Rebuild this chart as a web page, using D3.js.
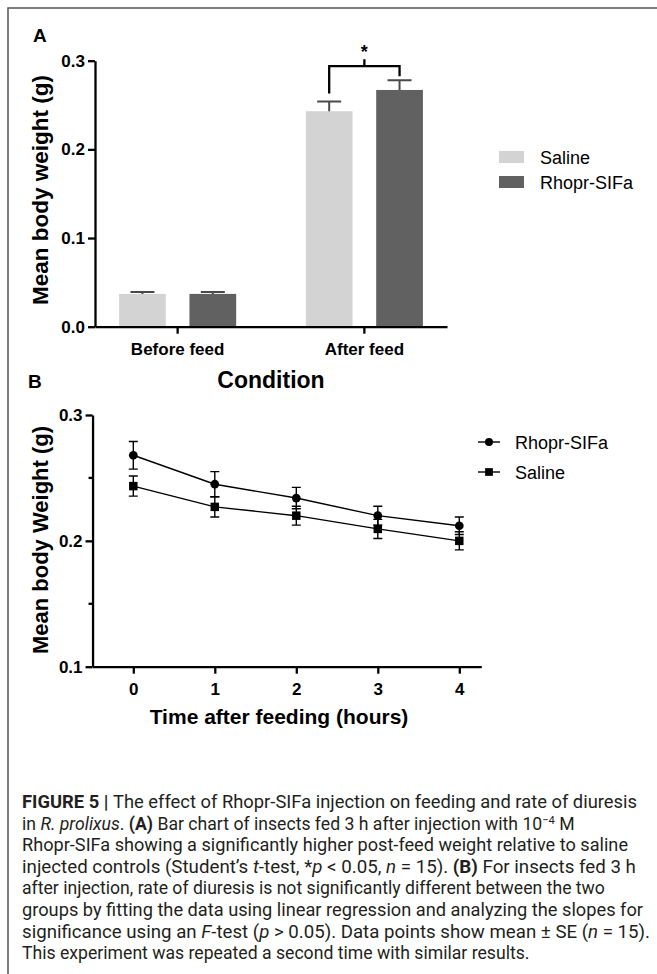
<!DOCTYPE html>
<html>
<head>
<meta charset="utf-8">
<script src="https://cdn.jsdelivr.net/npm/d3@7"></script>
<style>
body { margin: 0; background: #fff; }
svg { display: block; }
text { font-family: "Liberation Sans", Arial, sans-serif; }
</style>
</head>
<body>
<div id="fig"></div>
<script>
// panel A data
var conditions = ["Before feed", "After feed"]
var groups = ["Saline", "Rhopr-SIFa"]
var salineBar = [0.037, 0.243]
var salineBarSE = [0.002, 0.011]
var sifaBar = [0.037, 0.267]
var sifaBarSE = [0.002, 0.011]
var yTicksA = [0, 0.1, 0.2, 0.3]

// panel B data
var hours = [0, 1, 2, 3, 4]
var sifaWeight = [0.268, 0.245, 0.234, 0.220, 0.212]
var sifaSE = [0.011, 0.010, 0.0085, 0.0075, 0.007]
var salineWeight = [0.2435, 0.227, 0.220, 0.2095, 0.200]
var salineSE = [0.008, 0.008, 0.0075, 0.0076, 0.0072]
var yTicksB = [0.1, 0.2, 0.3]
var yMinorB = [0.15, 0.25]

var width = 657, height = 974

var svg = d3.select("#fig").append("svg")
    .attr("width", width)
    .attr("height", height)

// frame round the figure (only top and left show)
svg.append("path")
    .attr("d", "M8," + height + "V8H" + width)
    .attr("fill", "none")
    .attr("stroke", "#555")
    .attr("stroke-width", 1.5)

function styleAxis(g) {
    g.select(".domain").attr("stroke", "#000").attr("stroke-width", 2.3)
    g.selectAll(".tick line").attr("stroke", "#000").attr("stroke-width", 2.3)
    g.selectAll(".tick text")
        .attr("fill", "#000")
        .style("font-size", "17px")
        .style("font-weight", "bold")
        .style("font-family", "'Liberation Sans', Arial, sans-serif")
}

// ---------- panel A ----------
var xA = d3.scaleBand().domain(conditions).range([95, 447]).paddingInner(0.373).paddingOuter(0.129)
var xInner = d3.scaleBand().domain(groups).range([0, xA.bandwidth()]).paddingInner(0.336)
var yA = d3.scaleLinear().domain([0, 0.3]).range([326.7, 60.7])
var colorA = d3.scaleOrdinal().domain(groups).range(["#d3d3d3", "#616161"])

var barData = []
conditions.forEach(function (c, i) {
    barData.push({cond: c, grp: "Saline", v: salineBar[i], se: salineBarSE[i]})
    barData.push({cond: c, grp: "Rhopr-SIFa", v: sifaBar[i], se: sifaBarSE[i]})
})
function barCenter(d) { return xA(d.cond) + xInner(d.grp) + xInner.bandwidth() / 2 }

var gA = svg.append("g")
gA.selectAll("rect.bar")
    .data(barData)
    .enter()
    .append("rect")
    .attr("class", "bar")
    .attr("x", function (d) { return xA(d.cond) + xInner(d.grp) })
    .attr("y", function (d) { return yA(d.v) })
    .attr("width", xInner.bandwidth())
    .attr("height", function (d) { return yA(0) - yA(d.v) })
    .attr("fill", function (d) { return colorA(d.grp) })

// upward error bars
gA.selectAll("path.err")
    .data(barData)
    .enter()
    .append("path")
    .attr("class", "err")
    .attr("d", function (d) {
        var cx = barCenter(d), y0 = yA(d.v), y1 = yA(d.v + d.se)
        return "M" + cx + "," + y0 + "V" + y1 + "M" + (cx - 12) + "," + y1 + "H" + (cx + 12)
    })
    .attr("fill", "none")
    .attr("stroke", "#4a4a4a")
    .attr("stroke-width", 2)

var axA = gA.append("g").attr("transform", "translate(0," + yA(0) + ")")
    .call(d3.axisBottom(xA).tickSize(7).tickSizeOuter(0).tickPadding(6))
styleAxis(axA)
axA.selectAll(".tick text").attr("dy", "0.9em")
var ayA = gA.append("g").attr("transform", "translate(95,0)")
    .call(d3.axisLeft(yA).tickValues(yTicksA).tickFormat(d3.format(".1f")).tickSize(7).tickSizeOuter(0).tickPadding(3))
styleAxis(ayA)

// significance bracket between the two "After feed" bars
var left = barData[2], right = barData[3]
var lx = barCenter(left), rx = barCenter(right)
var by = yA(right.v + right.se) - 14
var mid = (lx + rx) / 2
gA.append("path")
    .attr("d", "M" + lx + "," + (yA(left.v + left.se) - 8) + "V" + by + "H" + rx + "V" + (yA(right.v + right.se) - 4)
        + "M" + mid + "," + by + "V" + (by - 7))
    .attr("fill", "none")
    .attr("stroke", "#000")
    .attr("stroke-width", 2.3)
gA.append("text")
    .attr("x", mid)
    .attr("y", by - 8)
    .attr("text-anchor", "middle")
    .style("font-size", "18px")
    .style("font-weight", "bold")
    .text("*")

// legend A
var legA = gA.selectAll("g.legA")
    .data(groups)
    .enter()
    .append("g")
    .attr("class", "legA")
    .attr("transform", function (d, i) { return "translate(499," + (157 + i * 25) + ")" })
legA.append("rect")
    .attr("x", 0).attr("y", -6).attr("width", 25).attr("height", 12)
    .attr("fill", function (d) { return colorA(d) })
legA.append("text")
    .attr("x", 41).attr("y", 6.5)
    .style("font-size", "18px")
    .text(function (d) { return d })

gA.append("text").attr("x", 33).attr("y", 42)
    .style("font-size", "19px").style("font-weight", "bold").text("A")
gA.append("text")
    .attr("transform", "translate(48,190) rotate(-90)")
    .attr("text-anchor", "middle")
    .style("font-size", "22.5px").style("font-weight", "bold")
    .text("Mean body weight (g)")
gA.append("text").attr("x", 271).attr("y", 388)
    .attr("text-anchor", "middle")
    .style("font-size", "23px").style("font-weight", "bold")
    .text("Condition")

// ---------- panel B ----------
var xB = d3.scaleLinear().domain([-0.5, 4.27]).range([92.55, 481.3])
var yB = d3.scaleLinear().domain([0.1, 0.3]).range([666.7, 415])

var seriesB = [
    {name: "Rhopr-SIFa", shape: "circle", vals: sifaWeight, se: sifaSE},
    {name: "Saline", shape: "square", vals: salineWeight, se: salineSE}
]

var gB = svg.append("g")
var line = d3.line()
    .x(function (d) { return xB(d.t) })
    .y(function (d) { return yB(d.v) })

seriesB.forEach(function (s) {
    var pts = hours.map(function (h, i) { return {t: h, v: s.vals[i], se: s.se[i]} })
    gB.append("path")
        .datum(pts)
        .attr("d", line)
        .attr("fill", "none")
        .attr("stroke", "#000")
        .attr("stroke-width", 1.4)
    gB.selectAll(null)
        .data(pts)
        .enter()
        .append("path")
        .attr("d", function (d) {
            var cx = xB(d.t), y0 = yB(d.v - d.se), y1 = yB(d.v + d.se)
            return "M" + cx + "," + y0 + "V" + y1 + "M" + (cx - 4.5) + "," + y0 + "H" + (cx + 4.5)
                + "M" + (cx - 4.5) + "," + y1 + "H" + (cx + 4.5)
        })
        .attr("fill", "none")
        .attr("stroke", "#000")
        .attr("stroke-width", 1.4)
    var sym = d3.symbol().type(s.shape == "circle" ? d3.symbolCircle : d3.symbolSquare)
        .size(s.shape == "circle" ? 60 : 72)
    gB.selectAll(null)
        .data(pts)
        .enter()
        .append("path")
        .attr("transform", function (d) { return "translate(" + xB(d.t) + "," + yB(d.v) + ")" })
        .attr("d", sym)
        .attr("fill", "#000")
})

var axB = gB.append("g").attr("transform", "translate(0," + yB(0.1) + ")")
    .call(d3.axisBottom(xB).tickValues(hours).tickFormat(d3.format("d")).tickSize(7).tickSizeOuter(0).tickPadding(6))
styleAxis(axB)
axB.selectAll(".tick text").attr("dy", "0.9em")
var ayB = gB.append("g").attr("transform", "translate(" + xB(-0.5) + ",0)")
    .call(d3.axisLeft(yB).tickValues(yTicksB).tickFormat(d3.format(".1f")).tickSize(7).tickSizeOuter(0).tickPadding(3))
styleAxis(ayB)
gB.selectAll("line.minor")
    .data(yMinorB)
    .enter()
    .append("line")
    .attr("class", "minor")
    .attr("x1", xB(-0.5) - 4).attr("x2", xB(-0.5))
    .attr("y1", function (d) { return yB(d) }).attr("y2", function (d) { return yB(d) })
    .attr("stroke", "#000").attr("stroke-width", 2.3)

// legend B
var legB = gB.selectAll("g.legB")
    .data(seriesB)
    .enter()
    .append("g")
    .attr("class", "legB")
    .attr("transform", function (d, i) { return "translate(478," + (442 + i * 30) + ")" })
legB.append("line")
    .attr("x1", 0).attr("x2", 22)
    .attr("stroke", "#000").attr("stroke-width", 1.4)
legB.append("path")
    .attr("transform", "translate(11,0)")
    .attr("d", function (d) {
        return d3.symbol().type(d.shape == "circle" ? d3.symbolCircle : d3.symbolSquare).size(d.shape == "circle" ? 50 : 60)()
    })
legB.append("text")
    .attr("x", 37).attr("y", 6.5)
    .style("font-size", "18px")
    .text(function (d) { return d.name })

gB.append("text").attr("x", 28).attr("y", 388)
    .style("font-size", "19px").style("font-weight", "bold").text("B")
gB.append("text")
    .attr("transform", "translate(48,540) rotate(-90)")
    .attr("text-anchor", "middle")
    .style("font-size", "22px").style("font-weight", "bold")
    .text("Mean body Weight (g)")
gB.append("text").attr("x", 279).attr("y", 724)
    .attr("text-anchor", "middle")
    .style("font-size", "21px").style("font-weight", "bold")
    .text("Time after feeding (hours)")

// ---------- caption ----------
var captionLines = [
    [["FIGURE 5 | ", "b"], ["The effect of Rhopr-SIFa injection on feeding and rate of diuresis", ""]],
    [["in ", ""], ["R. prolixus", "i"], [". ", ""], ["(A)", "b"], [" Bar chart of insects fed 3 h after injection with 10", ""], ["\u22124", "sup"], [" M", ""]],
    [["Rhopr-SIFa showing a significantly higher post-feed weight relative to saline", ""]],
    [["injected controls (Student\u2019s ", ""], ["t", "i"], ["-test, *", ""], ["p", "i"], [" < 0.05, ", ""], ["n", "i"], [" = 15). ", ""], ["(B)", "b"], [" For insects fed 3 h", ""]],
    [["after injection, rate of diuresis is not significantly different between the two", ""]],
    [["groups by fitting the data using linear regression and analyzing the slopes for", ""]],
    [["significance using an ", ""], ["F", "i"], ["-test (", ""], ["p", "i"], [" > 0.05). Data points show mean \u00b1 SE (", ""], ["n", "i"], [" = 15).", ""]],
    [["This experiment was repeated a second time with similar results.", ""]]
]
var captionEnds = [637, 513, 628, 641, 598, 643, 650, 468]

var cap = svg.append("g")
var capTexts = []
captionLines.forEach(function (segs, li) {
    var t = cap.append("text")
        .attr("x", 22)
        .attr("y", 808 + li * 21.6)
        .attr("fill", "#231f20")
        .style("font-family", "Roboto, 'Liberation Sans', sans-serif")
        .style("font-size", "16.5px")
    var shifted = false
    segs.forEach(function (s) {
        var ts = t.append("tspan").text(s[0])
        if (s[1] == "b") ts.style("font-weight", "bold")
        if (s[1] == "i") ts.style("font-style", "italic")
        if (s[1] == "sup") { ts.attr("dy", -5.5).style("font-size", "10.5px"); shifted = true }
        else if (shifted) { ts.attr("dy", 5.5); shifted = false }
    })
    capTexts.push(t)
})
// one common scale so glyphs stay the same size, then only a light stretch per line
var ratios = capTexts.map(function (t, i) { return (captionEnds[i] - 22) / t.node().getComputedTextLength() })
var k = d3.median(ratios)
capTexts.forEach(function (t, i) {
    t.style("font-size", (16.5 * k) + "px")
    t.selectAll("tspan").filter(function () { return this.style.fontSize == "10.5px" })
        .style("font-size", (10.5 * k) + "px")
    var nat = t.node().getComputedTextLength()
    var target = Math.max(nat * 0.97, Math.min(nat * 1.03, captionEnds[i] - 22))
    t.attr("textLength", target).attr("lengthAdjust", "spacingAndGlyphs")
})
</script>
</body>
</html>
